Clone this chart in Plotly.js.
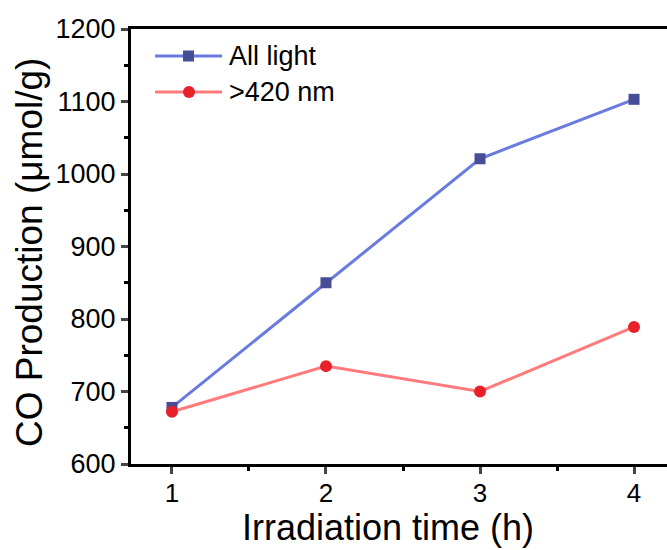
<!DOCTYPE html>
<html><head><meta charset="utf-8">
<script src="https://cdn.plot.ly/plotly-3.0.1.min.js"></script>
<style>html,body{margin:0;padding:0;overflow:hidden;background:#fff}</style>
</head><body><div id="chart" style="width:667px;height:550px"></div>
<script>
const hours = [1, 2, 3, 4];
const allLight = [678, 850, 1021, 1103];
const vis420 = [672, 735, 700, 789];
const seriesNames = ['All light', '>420 nm'];
const xTickVals = [1, 2, 3, 4];
const yTickVals = [600, 700, 800, 900, 1000, 1100, 1200];
const xTitle = 'Irradiation time (h)';
const yTitle = 'CO Production (μmol/g)';

const font = 'Liberation Sans, Arial, sans-serif';
const lineColors = ['#6a7be0', '#ff7b7b'];
const markerColors = ['#474d96', '#e8202a'];

const traces = [
  {x: hours, y: allLight, name: seriesNames[0], mode: 'lines+markers', type: 'scatter',
   line: {color: lineColors[0], width: 3}, marker: {symbol: 'square', size: 11, color: markerColors[0]}},
  {x: hours, y: vis420, name: seriesNames[1], mode: 'lines+markers', type: 'scatter',
   line: {color: lineColors[1], width: 3}, marker: {symbol: 'circle', size: 12, color: markerColors[1]}}
];

// plot-area geometry in pixels (for placing legend/titles in paper coordinates)
const L = 131, R = 667, T = 29, B = 464;
const px = v => (v - L) / (R - L);
const py = v => (B - v) / (B - T);

const legendRows = [56, 92];
const shapes = [];
const annotations = [];
legendRows.forEach((ry, i) => {
  shapes.push({type: 'line', xref: 'paper', yref: 'paper', x0: px(155), x1: px(222), y0: py(ry), y1: py(ry),
               line: {color: lineColors[i], width: 3}});
  if (i === 0) {
    shapes.push({type: 'rect', xref: 'paper', yref: 'paper', x0: px(183), x1: px(194), y0: py(ry - 5.5), y1: py(ry + 5.5),
                 fillcolor: markerColors[i], line: {width: 0}});
  } else {
    shapes.push({type: 'circle', xref: 'paper', yref: 'paper', x0: px(183), x1: px(195), y0: py(ry - 6), y1: py(ry + 6),
                 fillcolor: markerColors[i], line: {width: 0}});
  }
  annotations.push({xref: 'paper', yref: 'paper', x: px(227), y: py(ry), xanchor: 'left', yanchor: 'middle',
                    text: seriesNames[i], showarrow: false, font: {size: 27, family: font, color: '#000'}});
});
annotations.push({xref: 'paper', yref: 'paper', x: px(388), y: py(549), xanchor: 'center', yanchor: 'bottom',
                  text: xTitle, showarrow: false, borderpad: 0, font: {size: 36, family: font, color: '#000'}});
annotations.push({xref: 'paper', yref: 'paper', x: px(29), y: py(253), xanchor: 'center', yanchor: 'middle',
                  textangle: -90, text: yTitle, showarrow: false, font: {size: 37, family: font, color: '#000'}});

const layout = {
  width: 667, height: 550,
  margin: {l: L, r: 667 - R, t: T, b: 550 - B},
  paper_bgcolor: '#fff', plot_bgcolor: '#fff',
  font: {family: font, color: '#000'},
  showlegend: false,
  shapes: shapes,
  annotations: annotations,
  xaxis: {range: [0.734, 4.214], tickvals: xTickVals, ticks: 'outside', ticklen: 7, tickwidth: 3,
          ticklabelstandoff: -3,
          showline: true, linewidth: 3, linecolor: '#000', mirror: true, showgrid: false, zeroline: false,
          tickfont: {size: 26, family: font, color: '#000'},
          minor: {dtick: 0.5, ticks: 'outside', ticklen: 4, tickwidth: 3, tickcolor: '#000', showgrid: false}},
  yaxis: {range: [600, 1200], tickvals: yTickVals, ticks: 'outside', ticklen: 7, tickwidth: 3,
          showline: true, linewidth: 3, linecolor: '#000', showgrid: false, zeroline: false,
          tickfont: {size: 27, family: font, color: '#000'},
          minor: {dtick: 50, ticks: 'outside', ticklen: 4, tickwidth: 3, tickcolor: '#000', showgrid: false}}
};
Plotly.newPlot('chart', traces, layout, {displayModeBar: false, staticPlot: true});
</script></body></html>
